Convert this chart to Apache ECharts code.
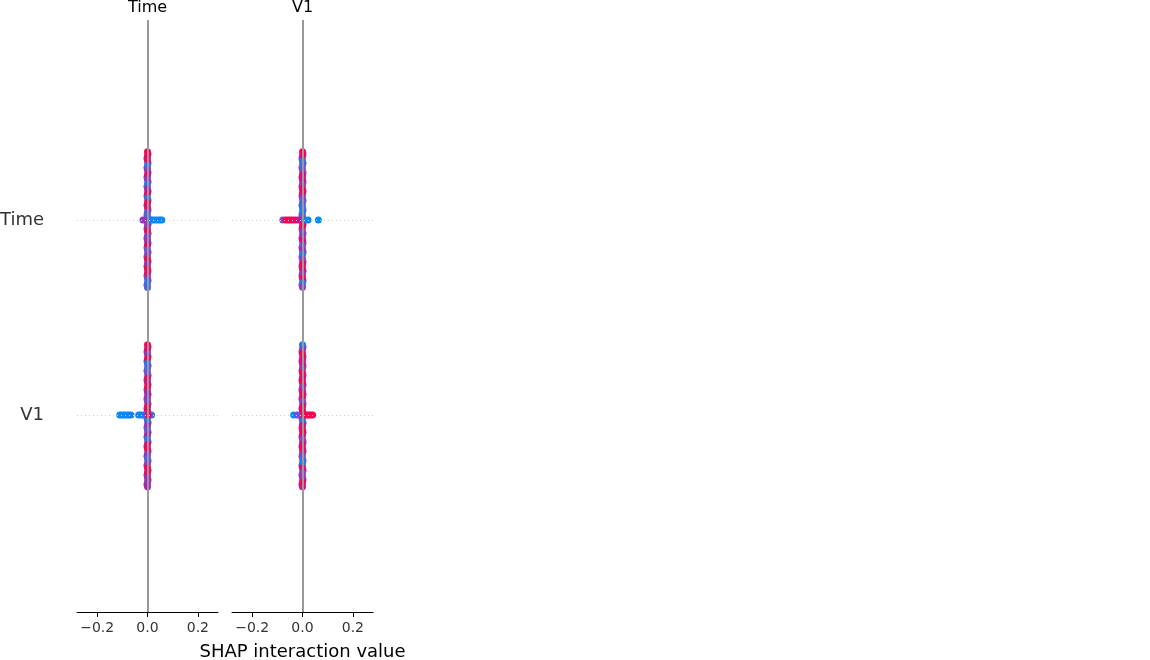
<!DOCTYPE html>
<html>
<head>
<meta charset="utf-8">
<script src="https://cdn.jsdelivr.net/npm/echarts@6/dist/echarts.min.js"></script>
<style>
  html, body { margin: 0; padding: 0; background: #fff; }
  #chart { width: 1150px; height: 660px; }
</style>
</head>
<body>
<div id="chart"></div>
<script>
// feature names: panels (columns) and rows
let panelNames = ['Time', 'V1'];
let rowNames = ['V1', 'Time'];   // y = 0 -> V1, y = 1 -> Time
let xTicks = [-0.2, 0.0, 0.2];

// each point: [interaction value, swarm offset, feature value (0 low .. 1 high)]
let timeTimePts = [
  [0, 0.350, 1], [0, 0.327, 1], [0, 0.303, 0.9], [0, 0.279, 0.1], [0, 0.256, 0.5],
  [0, 0.231, 0.9], [0, 0.207, 0.5], [0, 0.183, 0.1], [0, 0.160, 0.6], [0, 0.135, 0.9],
  [0, 0.111, 0.1], [0, 0.088, 1], [0, 0.063, 0.9], [0, 0.039, 0.3], [0, 0.016, 0.1],
  [0, -0.010, 0.4], [0, -0.033, 0.5], [0, -0.057, 1], [0, -0.082, 0.4], [0, -0.106, 0.5],
  [0, -0.129, 0.9], [0, -0.154, 0.3], [0, -0.178, 0.4], [0, -0.201, 1], [0, -0.226, 0.5],
  [0, -0.250, 1], [0, -0.273, 0.9], [0, -0.298, 0.4], [0, -0.322, 0.1], [0, -0.346, 0.2],
  [-0.018, 0, 0.45], [-0.009, 0, 0.5], [0.012, 0, 0.1], [0.02, 0, 0.05], [0.03, 0, 0],
  [0.04, 0, 0], [0.049, 0, 0], [0.057, 0, 0]
];
let v1TimePts = [
  [0, 0.350, 1], [0, 0.326, 0.9], [0, 0.302, 0.1], [0, 0.279, 0.2], [0, 0.255, 0.3],
  [0, 0.230, 0.9], [0, 0.207, 0.8], [0, 0.183, 0.5], [0, 0.158, 1], [0, 0.136, 0.9],
  [0, 0.111, 0.4], [0, 0.087, 0.2], [0, 0.062, 0.1], [0, 0.040, 0.05], [0, 0.015, 0.3],
  [0, -0.011, 0.8], [0, -0.034, 1], [0, -0.058, 0.4], [0, -0.082, 0.5], [0, -0.105, 0.9],
  [0, -0.131, 0.3], [0, -0.154, 0.5], [0, -0.177, 0.1], [0, -0.202, 0.4], [0, -0.226, 1],
  [0, -0.250, 0.9], [0, -0.275, 0.5], [0, -0.298, 1], [0, -0.322, 0.1], [0, -0.345, 0.4],
  [-0.078, 0, 0.3], [-0.066, 0, 1], [-0.056, 0, 1], [-0.046, 0, 1], [-0.036, 0, 1],
  [-0.026, 0, 0.9], [-0.015, 0, 0.8], [0.008, 0, 0.2], [0.022, 0, 0], [0.063, 0, 0]
];
let timeV1Pts = [
  [0, 0.360, 1], [0, 0.336, 0.9], [0, 0.311, 0.5], [0, 0.288, 1], [0, 0.264, 0.1],
  [0, 0.239, 0.2], [0, 0.215, 0.3], [0, 0.190, 0.9], [0, 0.167, 0.8], [0, 0.142, 1],
  [0, 0.118, 0.6], [0, 0.093, 0.5], [0, 0.070, 0.4], [0, 0.045, 0.9], [0, 0.021, 1],
  [0, -0.004, 0.9], [0, -0.028, 0.1], [0, -0.052, 0.5], [0, -0.077, 0.3], [0, -0.101, 0.6],
  [0, -0.125, 0.1], [0, -0.150, 0.9], [0, -0.174, 1], [0, -0.199, 0.5], [0, -0.223, 0.2],
  [0, -0.247, 0.4], [0, -0.272, 1], [0, -0.296, 0.9], [0, -0.320, 0.6], [0, -0.345, 0.5],
  [0, -0.368, 0.6],
  [-0.11, 0, 0], [-0.101, 0, 0], [-0.092, 0, 0], [-0.083, 0, 0], [-0.074, 0, 0],
  [-0.066, 0, 0.05], [-0.035, 0, 0.05], [-0.026, 0, 0], [-0.017, 0, 0.1], [-0.008, 0, 0.15],
  [0.008, 0, 0.2], [0.016, 0, 0.15], [0.003, 0, 1]
];
let v1V1Pts = [
  [0, 0.360, 0.05], [0, 0.336, 0.5], [0, 0.311, 1], [0, 0.287, 0.9], [0, 0.264, 0.8],
  [0, 0.239, 0.5], [0, 0.215, 1], [0, 0.190, 0.9], [0, 0.166, 1], [0, 0.142, 0.5],
  [0, 0.118, 0.9], [0, 0.094, 1], [0, 0.070, 0.4], [0, 0.045, 0.9], [0, 0.021, 1],
  [0, -0.004, 1], [0, -0.029, 0.1], [0, -0.053, 0.8], [0, -0.077, 1], [0, -0.101, 0.9],
  [0, -0.126, 0.4], [0, -0.150, 0.9], [0, -0.174, 1], [0, -0.198, 0.5], [0, -0.223, 0.2],
  [0, -0.247, 0.05], [0, -0.272, 0.9], [0, -0.296, 0.4], [0, -0.320, 0.5], [0, -0.345, 1],
  [0, -0.368, 0.8],
  [-0.035, 0, 0], [-0.02, 0, 0.3], [0.006, 0, 1], [0.015, 0, 1], [0.024, 0, 1],
  [0.033, 0, 1], [0.04, 0, 1]
];

// points hidden underneath the swarm columns (mostly mid-range feature values)
let timeTimeUnder = [
  [0.002, 0.338, 0.6], [-0.002, 0.315, 0.5], [0.002, 0.291, 0.45], [-0.002, 0.267, 0.7],
  [0.002, 0.243, 0.5], [-0.002, 0.219, 0.45], [0.002, 0.195, 0.6], [-0.002, 0.171, 0.5],
  [0.002, 0.147, 0.7], [-0.002, 0.123, 0.45], [0.002, 0.099, 0.5], [-0.002, 0.075, 0.6],
  [0.002, 0.051, 0.45], [-0.002, 0.027, 0.5], [0.002, -0.022, 0.6], [-0.002, -0.045, 0.45],
  [0.002, -0.070, 0.5], [-0.002, -0.094, 0.7], [0.002, -0.118, 0.5], [-0.002, -0.142, 0.45],
  [0.002, -0.166, 0.6], [-0.002, -0.190, 0.5], [0.002, -0.214, 0.7], [-0.002, -0.238, 0.45],
  [0.002, -0.262, 0.5], [-0.002, -0.286, 0.6], [0.002, -0.310, 0.45], [-0.002, -0.334, 0.5]
];
let v1TimeUnder = [
  [0.002, 0.338, 0.7], [-0.002, 0.314, 0.5], [0.002, 0.290, 0.45], [-0.002, 0.267, 0.6],
  [0.002, 0.243, 0.5], [-0.002, 0.219, 0.7], [0.002, 0.195, 0.45], [-0.002, 0.171, 0.5],
  [0.002, 0.147, 0.6], [-0.002, 0.123, 0.5], [0.002, 0.099, 0.45], [-0.002, 0.075, 0.5],
  [0.002, 0.051, 0.6], [-0.002, 0.027, 0.45], [0.002, -0.022, 0.7], [-0.002, -0.046, 0.5],
  [0.002, -0.070, 0.45], [-0.002, -0.094, 0.6], [0.002, -0.118, 0.5], [-0.002, -0.142, 0.7],
  [0.002, -0.166, 0.45], [-0.002, -0.190, 0.5], [0.002, -0.214, 0.6], [-0.002, -0.238, 0.5],
  [0.002, -0.262, 0.7], [-0.002, -0.286, 0.45], [0.002, -0.310, 0.6], [-0.002, -0.334, 0.5]
];
let timeV1Under = [
  [0.002, 0.348, 0.7], [-0.002, 0.324, 0.5], [0.002, 0.300, 0.6], [-0.002, 0.276, 0.45],
  [0.002, 0.252, 0.7], [-0.002, 0.227, 0.5], [0.002, 0.203, 0.6], [-0.002, 0.179, 0.7],
  [0.002, 0.155, 0.5], [-0.002, 0.130, 0.45], [0.002, 0.106, 0.7], [-0.002, 0.082, 0.6],
  [0.002, 0.058, 0.5], [-0.002, 0.033, 0.7], [0.002, 0.009, 0.6], [-0.002, -0.016, 0.5],
  [0.002, -0.040, 0.7], [-0.002, -0.064, 0.45], [0.002, -0.089, 0.6], [-0.002, -0.113, 0.5],
  [0.002, -0.138, 0.7], [-0.002, -0.162, 0.6], [0.002, -0.186, 0.5], [-0.002, -0.211, 0.7],
  [0.002, -0.235, 0.45], [-0.002, -0.259, 0.6], [0.002, -0.284, 0.7], [-0.002, -0.308, 0.5],
  [0.002, -0.333, 0.6], [-0.002, -0.356, 0.7]
];
let v1V1Under = [
  [0.002, 0.348, 0.5], [-0.002, 0.324, 0.7], [0.002, 0.299, 0.6], [-0.002, 0.276, 0.5],
  [0.002, 0.251, 0.7], [-0.002, 0.227, 0.6], [0.002, 0.203, 0.5], [-0.002, 0.178, 0.7],
  [0.002, 0.154, 0.6], [-0.002, 0.130, 0.7], [0.002, 0.106, 0.5], [-0.002, 0.082, 0.7],
  [0.002, 0.057, 0.6], [-0.002, 0.033, 0.7], [0.002, 0.009, 0.8], [-0.002, -0.016, 0.6],
  [0.002, -0.041, 0.7], [-0.002, -0.065, 0.5], [0.002, -0.089, 0.7], [-0.002, -0.113, 0.6],
  [0.002, -0.138, 0.7], [-0.002, -0.162, 0.5], [0.002, -0.186, 0.7], [-0.002, -0.211, 0.6],
  [0.002, -0.235, 0.5], [-0.002, -0.259, 0.7], [0.002, -0.284, 0.6], [-0.002, -0.308, 0.7],
  [0.002, -0.332, 0.5], [-0.002, -0.356, 0.7]
];

let panelRows = [
  [timeV1Under.concat(timeV1Pts), timeTimeUnder.concat(timeTimePts)],
  [v1V1Under.concat(v1V1Pts), v1TimeUnder.concat(v1TimePts)]
];

let chart = echarts.init(document.getElementById('chart'));
let font = 'DejaVu Sans';
let gridLefts = [77, 232];

let grids = [], xAxes = [], yAxes = [], series = [], titles = [];

gridLefts.forEach(function (left, i) {
  grids.push({ left: left, top: 20, width: 141, bottom: 48, outerBoundsMode: 'none', containLabel: false });
  titles.push({
    text: panelNames[i], left: left + 70.5, top: 0, textAlign: 'center', padding: 0,
    textStyle: { fontFamily: font, fontSize: 16, fontWeight: 'normal', color: '#000' }
  });
  xAxes.push({
    gridIndex: i, type: 'value', min: -0.28, max: 0.28,
    name: i === 1 ? 'SHAP interaction value' : '',
    nameLocation: 'middle', nameGap: 31,
    nameTextStyle: { fontFamily: font, fontSize: 18, color: '#000' },
    axisLine: { show: true, onZero: false, lineStyle: { color: '#000', width: 1 } },
    axisTick: { show: true, length: 5, customValues: xTicks, lineStyle: { color: '#000' } },
    axisLabel: {
      customValues: xTicks, fontFamily: font, fontSize: 14, color: '#333', margin: 9,
      formatter: function (v) { return v.toFixed(1).replace('-', '\u2212'); }
    },
    splitLine: { show: false }
  });
  yAxes.push({
    gridIndex: i, type: 'value', min: -1.01, max: 2.025,
    axisLine: { show: false }, axisTick: { show: false },
    axisLabel: {
      show: i === 0, customValues: [0, 1], margin: 33,
      fontFamily: font, fontSize: 18, color: '#333',
      formatter: function (v) { return rowNames[Math.round(v)]; }
    },
    splitLine: { show: false }
  });
  // guide lines
  series.push({
    type: 'scatter', xAxisIndex: i, yAxisIndex: i, data: [], z: 1,
    markLine: {
      silent: true, symbol: 'none', animation: false, label: { show: false },
      data: [
        { yAxis: 0, lineStyle: { color: '#ccc', type: [1, 3], width: 1 } },
        { yAxis: 1, lineStyle: { color: '#ccc', type: [1, 3], width: 1 } },
        { xAxis: 0, lineStyle: { color: '#999', type: 'solid', width: 2 } }
      ]
    }
  });
  panelRows[i].forEach(function (pts, row) {
    series.push({
      type: 'scatter', xAxisIndex: i, yAxisIndex: i, z: 3,
      symbolSize: 7, animation: false,
      itemStyle: { opacity: 1 },
      data: pts.map(function (p) { return [p[0], row + p[1], p[2]]; })
    });
  });
});

option = {
  backgroundColor: '#fff',
  animation: false,
  title: titles,
  grid: grids,
  xAxis: xAxes,
  yAxis: yAxes,
  visualMap: {
    show: false, type: 'continuous', dimension: 2, min: 0, max: 1,
    seriesIndex: [1, 2, 4, 5],
    inRange: { color: ['#008bfb', '#7d4ad6', '#b71aa8', '#ff0052'] }
  },
  series: series
};

chart.setOption(option);
</script>
</body>
</html>
